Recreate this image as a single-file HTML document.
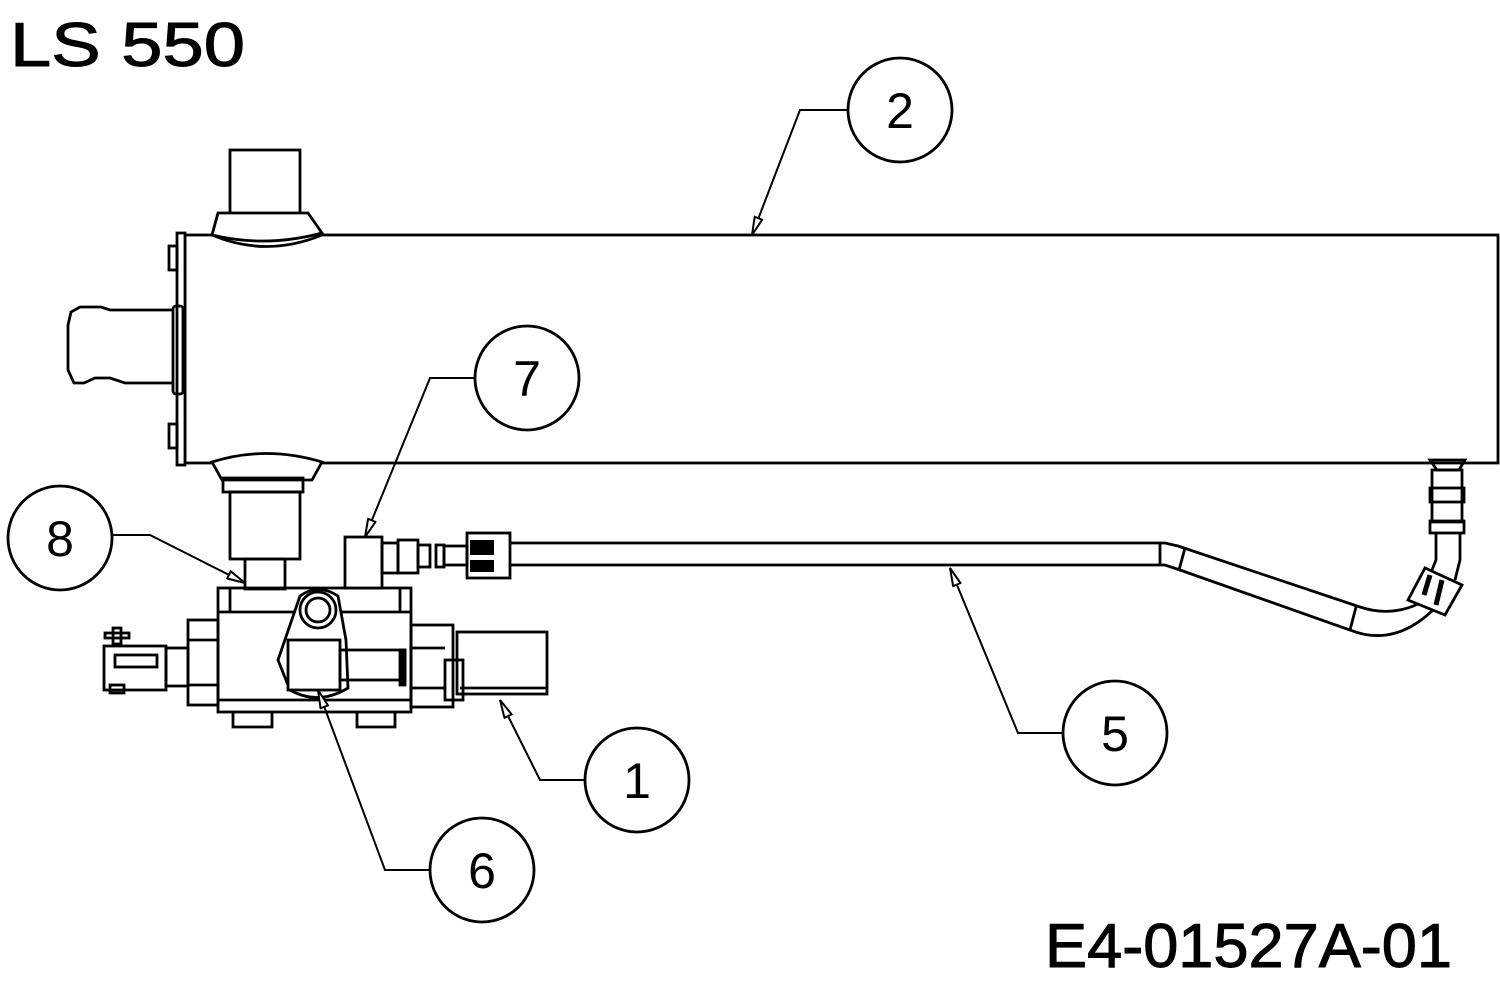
<!DOCTYPE html>
<html><head><meta charset="utf-8"><style>
html,body{margin:0;padding:0;background:#fff;width:1500px;height:990px;overflow:hidden}
svg{display:block}
</style></head><body>
<svg width="1500" height="990" viewBox="0 0 1500 990" xmlns="http://www.w3.org/2000/svg">
<defs>
<marker id="a" viewBox="0 0 20 10" refX="19" refY="5" markerWidth="20" markerHeight="10" markerUnits="userSpaceOnUse" orient="auto">
<path d="M1,1 L19,5 L1,9 Z" fill="#fff" stroke="#000" stroke-width="2"/>
</marker>
</defs>
<g fill="none" stroke="#000" stroke-width="2.8">
<rect x="185" y="235" width="1313" height="228"/>
<rect x="177" y="233" width="8" height="232" fill="#fff"/>
<rect x="169" y="246" width="8" height="24"/>
<rect x="169" y="424" width="8" height="24"/>
<rect x="173" y="306" width="10" height="88" rx="3"/>
<path d="M173,310 H110 L101,307 H80 L71,312 L68,325 V370 L74,383 H84 L95,378 H110 L125,383 H173"/>
<rect x="230" y="150" width="70" height="64"/>
<path d="M218,213 H308 L322,233 Q266,248 212,235 Z" fill="#fff"/>
<path d="M212,235 Q266,258 322,235"/>
<path d="M212,462 Q266,445 322,462 L312,480 H222 Z" fill="#fff"/>
<rect x="223" y="478" width="80" height="14"/>
<rect x="230" y="492" width="70" height="67"/>
<rect x="245" y="559" width="40" height="30"/>
<rect x="218" y="588" width="193" height="124"/>
<line x1="218" y1="612" x2="411" y2="612"/>
<line x1="218" y1="700" x2="411" y2="700"/>
<line x1="230" y1="588" x2="230" y2="612"/>
<line x1="400" y1="588" x2="400" y2="612"/>
<rect x="188" y="620" width="30" height="85"/>
<line x1="188" y1="640" x2="218" y2="640"/>
<line x1="188" y1="685" x2="218" y2="685"/>
<rect x="166" y="648" width="22" height="38"/>
<rect x="104" y="646" width="62" height="44"/>
<rect x="115" y="655" width="42" height="12"/>
<rect x="113" y="628" width="8" height="16"/>
<rect x="105" y="633" width="24" height="5"/>
<rect x="110" y="685" width="14" height="8"/>
<path d="M233,712 V727 H272 V712 M357,712 V727 H395 V712"/>
<rect x="411" y="625" width="42" height="82"/>
<line x1="411" y1="648" x2="445" y2="648"/>
<line x1="411" y1="688" x2="445" y2="688"/>
<rect x="457" y="632" width="90" height="62"/>
<line x1="460" y1="688" x2="547" y2="688"/>
<rect x="445" y="660" width="18" height="40"/>
<path d="M300,596 Q318,583 338,596 L346,640 L348,688 Q318,706 290,690 L278,660 Z" fill="#fff"/>
<circle cx="318" cy="610" r="18"/>
<circle cx="318" cy="610" r="12"/>
<rect x="288" y="640" width="52" height="50" fill="#fff"/>
<rect x="340" y="650" width="65" height="30"/>
<rect x="400" y="650" width="5" height="35" fill="#000"/>
<rect x="345" y="537" width="37" height="51" fill="#fff"/>
<rect x="382" y="543" width="16" height="30"/>
<rect x="398" y="540" width="20" height="33"/>
<rect x="418" y="545" width="12" height="22"/>
<rect x="436" y="545" width="8" height="22"/>
<rect x="444" y="546" width="23" height="19"/>
<rect x="467" y="533" width="43" height="45"/>
<rect x="470" y="540" width="24" height="15" fill="#000" stroke="none"/>
<rect x="470" y="560" width="24" height="12" fill="#000" stroke="none"/>
<path d="M510,543 H1165 L1178,546 L1360,607 Q1390,617 1418,604"/>
<path d="M510,565 H1165 L1180,570 L1350,630 Q1395,648 1435,608"/>
<line x1="1160" y1="543" x2="1160" y2="565"/>
<line x1="1185" y1="548" x2="1179" y2="570"/>
<line x1="1356" y1="607" x2="1350" y2="630"/>
<path d="M1430,460 H1465 L1459,470 H1437 Z"/>
<rect x="1432" y="470" width="30" height="52"/>
<rect x="1430" y="488" width="34" height="14"/>
<rect x="1430" y="521" width="34" height="12"/>
<path d="M1436,533 V560 L1432,570 M1460,533 V560 L1455,580"/>
<path d="M1408,600 L1425,568 L1462,585 L1445,615 Z" fill="#fff"/>
<path d="M1430,575 L1424,595 M1442,580 L1436,605" stroke-width="5"/>
<circle cx="900" cy="110" r="52"/>
<circle cx="527" cy="378" r="52"/>
<circle cx="60" cy="538" r="52"/>
<circle cx="1115" cy="733" r="52"/>
<circle cx="637" cy="780" r="52"/>
<circle cx="482" cy="870" r="52"/>
</g>
<g fill="none" stroke="#000" stroke-width="2">
<path d="M848,110 H800 L752,235" marker-end="url(#a)"/>
<path d="M475,378 H430 L365,537" marker-end="url(#a)"/>
<path d="M112,535 H150 L245,583" marker-end="url(#a)"/>
<path d="M1063,733 H1018 L950,568" marker-end="url(#a)"/>
<path d="M585,780 H540 L500,700" marker-end="url(#a)"/>
<path d="M430,870 H385 L318,690" marker-end="url(#a)"/>
</g>
<g font-family="Liberation Sans, sans-serif" font-size="50" text-anchor="middle" fill="#000">
<text x="900" y="128">2</text>
<text x="527" y="396">7</text>
<text x="60" y="556">8</text>
<text x="1115" y="751">5</text>
<text x="637" y="798">1</text>
<text x="482" y="888">6</text>
</g>
<text x="10" y="66" font-family="Liberation Sans, sans-serif" font-size="62" fill="#000" stroke="#000" stroke-width="1" textLength="235" lengthAdjust="spacingAndGlyphs">LS 550</text>
<text x="1045" y="967" font-family="Liberation Sans, sans-serif" font-size="62" fill="#000" stroke="#000" stroke-width="1" textLength="407" lengthAdjust="spacingAndGlyphs">E4-01527A-01</text>
</svg>
</body></html>
